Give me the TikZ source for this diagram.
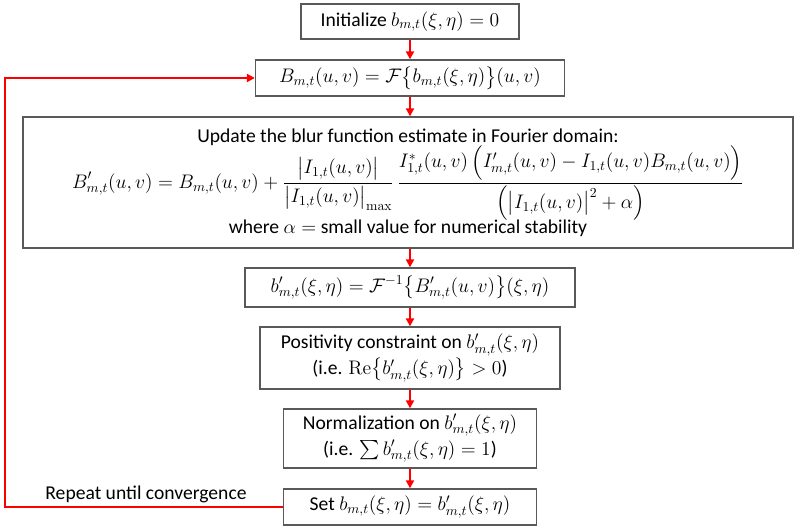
\RequirePackage{fix-cm}
\documentclass[tikz,border=0pt]{standalone}
\usepackage{amsmath}
\usepackage[no-math]{fontspec}
\setmainfont{Carlito}
\usetikzlibrary{arrows.meta}

\begin{document}
\begin{tikzpicture}[
  x=0.75pt, y=-0.75pt,
  blk/.style={draw=black!65, line width=1pt, fill=white, inner sep=0pt,
    align=center, font=\fontsize{14.7}{19.5}\selectfont},
  lbl/.style={font=\fontsize{14.7}{19.5}\selectfont},
  flow/.style={draw=red, line width=1.6pt, -{Triangle[length=6pt,width=6pt]}},
]

\useasboundingbox (0,0) rectangle (800,530);

\node [blk, minimum width=163.5pt, minimum height=26.25pt] (init) at (410,21.5)
  {Initialize $b_{m,t}(\xi,\eta) = 0$};
\node [blk, minimum width=231.75pt, minimum height=27pt] (fft) at (410,78)
  {$B_{m,t}(u,v) = \mathcal{F}\bigl\{b_{m,t}(\xi,\eta)\bigr\}(u,v)$};
\node [blk, minimum width=577.5pt, minimum height=98.25pt] (upd) at (408,182.5)
  {Update the blur function estimate in Fourier domain:\\[-1pt]
   $\displaystyle B'_{m,t}(u,v) = B_{m,t}(u,v) + \frac{\bigl|I_{1,t}(u,v)\bigr|}{\bigl|I_{1,t}(u,v)\bigr|_{\max}}\,
   \frac{I^{*}_{1,t}(u,v)\,\Bigl(I'_{m,t}(u,v) - I_{1,t}(u,v)B_{m,t}(u,v)\Bigr)}{\Bigl(\bigl|I_{1,t}(u,v)\bigr|^{2}+\alpha\Bigr)}$\\[-2pt]
   where $\alpha = $ small value for numerical stability};
\node [blk, minimum width=247.5pt, minimum height=29.25pt] (ifft) at (410,287.5)
  {$b'_{m,t}(\xi,\eta) = \mathcal{F}^{-1}\bigl\{B'_{m,t}(u,v)\bigr\}(\xi,\eta)$};
\node [blk, minimum width=225pt, minimum height=46.5pt] (pos) at (410,358)
  {Positivity constraint on $b'_{m,t}(\xi,\eta)$\\
   (i.e. $\mathrm{Re}\bigl\{b'_{m,t}(\xi,\eta)\bigr\} > 0$)};
\node [blk, minimum width=190pt, minimum height=44.25pt] (norm) at (410,438.5)
  {Normalization on $b'_{m,t}(\xi,\eta)$\\
   (i.e. $\sum b'_{m,t}(\xi,\eta) = 1$)};
\node [blk, minimum width=190pt, minimum height=27pt] (set) at (410,507)
  {Set $b_{m,t}(\xi,\eta) = b'_{m,t}(\xi,\eta)$};
\node [lbl] (rep) at (146,494) {Repeat until convergence};
\coordinate (back) at (5,0);

\draw [flow] (init) -- (fft);
\draw [flow] (fft) -- (fft |- upd.north);
\draw [flow] (upd.south -| ifft) -- (ifft);
\draw [flow] (ifft) -- (pos);
\draw [flow] (pos) -- (norm);
\draw [flow] (norm) -- (set);
\draw [flow] (set.west) -- (set.west -| back) |- (fft.west);

\end{tikzpicture}
\end{document}
